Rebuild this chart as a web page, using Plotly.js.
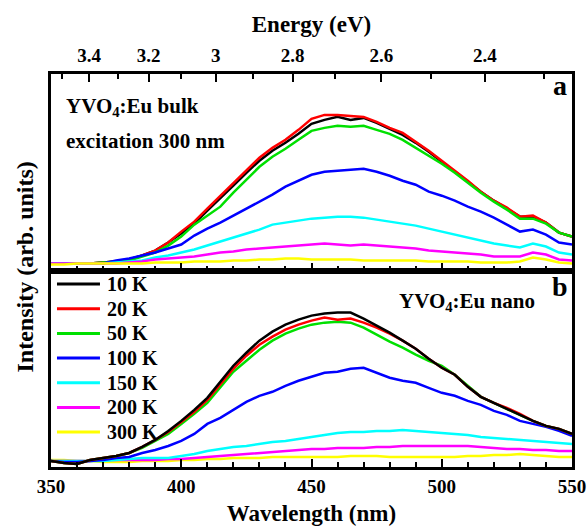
<!DOCTYPE html>
<html><head><meta charset="utf-8">
<script src="https://cdn.plot.ly/plotly-3.0.1.min.js"></script>
<style>
html,body{margin:0;padding:0;background:#fff}
#chart svg text{font-family:serif !important;}
</style>
</head><body><div id="chart"></div>
<script>
// Wavelength (nm)
const wavelength = [350,355,360,365,370,375,380,385,390,395,400,405,410,415,420,425,430,435,440,445,450,455,460,465,470,475,480,485,490,495,500,505,510,515,520,525,530,535,540,545,550];
const temps = ['10 K','20 K','50 K','100 K','150 K','200 K','300 K'];
const colors = ['#000000','#ff0000','#00e000','#0000ff','#00ffff','#ff00ff','#ffff00'];

// Panel a: YVO4:Eu bulk (arb. units)
const bulk10  = [7,7,7,7,8,9,11,15,20,28,37,47,60,72,85,98,110,120,128,137,147,151,154,151,153,148,142,136,128,119,109,99,89,79,70,62,54,54,48,38,34];
const bulk20  = [7,7,7,7,8,9,11,15,20,28,39,49,62,75,88,101,113,123,131,141,152,156,156,155,154,149,143,138,129,120,110,100,90,79,70,63,54,55,48,38,34];
const bulk50  = [7,7,7,7,8,9,10,14,18,25,34,46,55,64,78,91,104,114,122,131,140,143,145,144,145,141,137,131,123,115,107,98,88,78,69,61,52,52,47,38,34];
const bulk100 = [7,7,7,7,7,10,12,15,18,22,26,35,42,48,55,62,69,76,84,90,96,99,100,101,102,99,95,90,86,79,75,70,64,59,53,46,39,41,36,28,26];
const bulk150 = [7,7,7,7,7,8,9,10,13,15,18,21,25,29,33,37,41,46,48,50,52,53,54,54,53,51,49,47,45,42,39,36,33,30,27,25,23,27,24,18,16];
const bulk200 = [7,7,7,7,7,7,8,9,11,12,13,14,16,18,19,21,22,23,24,25,26,27,26,25,26,25,24,23,22,20,19,18,17,16,14,14,14,18,16,11,10];
const bulk300 = [6,6,7,7,7,7,7,7,8,8,8,9,9,9,10,10,11,11,12,12,11,11,11,11,10,10,10,10,10,9,9,9,9,8,8,8,9,13,11,8,7];

// Panel b: YVO4:Eu nano (arb. units)
const nano10  = [6,4,3,7,9,11,14,20,27,36,46,57,69,85,101,114,126,135,142,147,151,153,154,154,148,141,134,126,118,108,99,92,80,70,64,58,52,46,41,38,33];
const nano20  = [6,4,3,7,9,11,14,20,27,35,45,55,67,82,98,111,122,130,137,142,146,149,147,148,144,139,133,126,118,108,99,92,80,70,64,59,53,46,41,38,33];
const nano50  = [6,4,3,7,9,11,14,19,26,33,43,53,64,80,95,106,117,126,133,138,142,144,145,144,139,132,125,119,112,106,101,92,81,70,64,58,52,46,41,38,33];
const nano100 = [6,5,5,6,7,9,10,14,17,21,26,33,43,49,57,65,71,75,81,86,90,94,95,98,99,94,89,86,84,79,74,71,66,62,56,52,46,43,40,36,31];
const nano150 = [6,6,6,6,6,7,8,9,9,9,11,13,16,18,20,21,23,25,26,28,30,32,34,35,35,36,36,37,36,35,34,33,32,30,29,28,27,26,25,24,23];
const nano200 = [6,6,6,6,7,7,7,7,7,8,8,9,10,11,12,13,14,15,16,17,18,18,19,19,19,20,20,21,21,21,21,21,21,20,19,18,18,17,17,16,16];
const nano300 = [7,7,6,6,5,5,5,6,6,6,7,7,8,8,9,9,9,10,10,10,10,10,10,11,11,11,10,10,10,10,10,10,11,11,12,12,13,12,11,10,10];

// Axis ticks
const wlTicks = [350,400,450,500,550];
const energyTicks = [3.4,3.2,3.0,2.8,2.6,2.4];
const energyTickText = ['3.4','3.2','3','2.8','2.6','2.4'];
const energyMinor = [3.5,3.3,3.1,2.9,2.7,2.5,2.3];
const HC = 1239.84; // eV*nm

const bulk = [bulk10,bulk20,bulk50,bulk100,bulk150,bulk200,bulk300];
const nano = [nano10,nano20,nano50,nano100,nano150,nano200,nano300];

const traces = [];
for (let i = 0; i < bulk.length; i++) {
  traces.push({x: wavelength, y: bulk[i], xaxis: 'x2', yaxis: 'y2', mode: 'lines',
    name: temps[i], line: {color: colors[i], width: 2.5}, showlegend: false});
}
for (let i = nano.length - 1; i >= 0; i--) {
  traces.push({x: wavelength, y: nano[i], xaxis: 'x', yaxis: 'y', mode: 'lines',
    name: temps[i], line: {color: colors[i], width: 2.5}, showlegend: false});
}
// carrier for the energy axis
traces.push({x: [wavelength[0], wavelength[wavelength.length-1]], y: [null, null], xaxis: 'x3', yaxis: 'y2',
  mode: 'lines', showlegend: false, hoverinfo: 'skip'});

function bf(s) { return {family: 'serif', size: s, color: '#000000', weight: 'bold'}; }

const layout = {
  width: 588, height: 526,
  margin: {l: 51, r: 16, t: 74, b: 59},
  paper_bgcolor: '#ffffff', plot_bgcolor: '#ffffff',
  font: {family: 'serif', color: '#000000'},
  showlegend: false,
  xaxis: {
    domain: [0, 1], anchor: 'y', range: [350, 550],
    showline: true, linewidth: 3, linecolor: '#000000', showgrid: false, zeroline: false, mirror: true,
    tickmode: 'array', tickvals: wlTicks, ticks: 'inside', ticklen: 8, tickwidth: 2, tickcolor: '#000000',
    minor: {dtick: 10, tick0: 350, ticks: 'inside', ticklen: 5, tickwidth: 2, tickcolor: '#000000'},
    tickfont: bf(19),
    title: {text: 'Wavelength (nm)', font: bf(23), standoff: 10}
  },
  xaxis2: {
    domain: [0, 1], anchor: 'y2', range: [350, 550],
    showline: true, linewidth: 3, linecolor: '#000000', showgrid: false, zeroline: false, mirror: true,
    showticklabels: false,
    tickmode: 'array', tickvals: wlTicks, ticks: 'inside', ticklen: 8, tickwidth: 2, tickcolor: '#000000',
    minor: {dtick: 10, tick0: 350, ticks: 'inside', ticklen: 5, tickwidth: 2, tickcolor: '#000000'}
  },
  xaxis3: {
    overlaying: 'x2', side: 'top', anchor: 'y2', range: [350, 550],
    showline: false, showgrid: false, zeroline: false,
    tickmode: 'array', tickvals: energyTicks.map(e => HC / e), ticktext: energyTickText,
    ticks: 'inside', ticklen: 8, tickwidth: 2, tickcolor: '#000000', ticklabelstandoff: 7,
    minor: {tickmode: 'array', tickvals: energyMinor.map(e => HC / e), ticks: 'inside', ticklen: 5, tickwidth: 2, tickcolor: '#000000'},
    tickfont: bf(19),
    title: {text: 'Energy (eV)', font: bf(23), standoff: 6}
  },
  yaxis: {domain: [0, 0.5], anchor: 'x', range: [0, 196],
    showline: true, linewidth: 3, linecolor: '#000000', showgrid: false, zeroline: false, mirror: true,
    ticks: '', showticklabels: false},
  yaxis2: {domain: [0.5, 1], anchor: 'x2', range: [0, 197],
    showline: true, linewidth: 3, linecolor: '#000000', showgrid: false, zeroline: false, mirror: true,
    ticks: '', showticklabels: false},
  annotations: [],
  shapes: []
};

const ann = layout.annotations;
ann.push({text: 'Intensity (arb. units)', xref: 'paper', yref: 'paper', x: -0.05, y: 0.51,
  textangle: -90, showarrow: false, font: bf(24), xanchor: 'center', yanchor: 'middle'});
ann.push({text: 'YVO<sub>4</sub>:Eu bulk', xref: 'paper', yref: 'paper', x: 0.025, y: 0.915,
  showarrow: false, font: bf(21), xanchor: 'left', yanchor: 'middle'});
ann.push({text: 'excitation 300 nm', xref: 'paper', yref: 'paper', x: 0.025, y: 0.83,
  showarrow: false, font: bf(21), xanchor: 'left', yanchor: 'middle'});
ann.push({text: 'a', xref: 'paper', yref: 'paper', x: 0.977, y: 0.972,
  showarrow: false, font: bf(28), xanchor: 'center', yanchor: 'middle'});
ann.push({text: 'b', xref: 'paper', yref: 'paper', x: 0.977, y: 0.46,
  showarrow: false, font: bf(28), xanchor: 'center', yanchor: 'middle'});
ann.push({text: 'YVO<sub>4</sub>:Eu nano', xref: 'paper', yref: 'paper', x: 0.933, y: 0.42,
  showarrow: false, font: bf(21), xanchor: 'right', yanchor: 'middle'});

// legend (inside panel b)
const legY0 = 0.4656, legStep = 0.0628;
for (let i = 0; i < temps.length; i++) {
  const yy = legY0 - i * legStep;
  layout.shapes.push({type: 'line', xref: 'paper', yref: 'paper', x0: 0.0115, x1: 0.094, y0: yy, y1: yy,
    line: {color: colors[i], width: 3}});
  ann.push({text: temps[i], xref: 'paper', yref: 'paper', x: 0.104, y: yy, showarrow: false,
    font: bf(20), xanchor: 'left', yanchor: 'middle'});
}

Plotly.newPlot('chart', traces, layout, {displayModeBar: false});
</script>
</body></html>
